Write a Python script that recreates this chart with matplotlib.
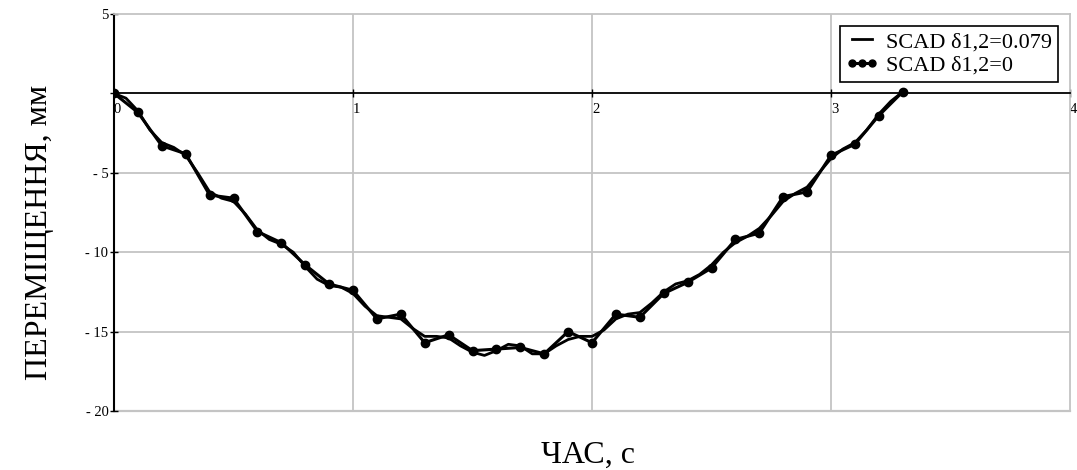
import matplotlib
matplotlib.use('Agg')
import matplotlib.pyplot as plt
import numpy as np

# SCAD d1,2=0 (markers every 0.1 s)
t_pts = [0.0, 0.1, 0.2, 0.3, 0.4, 0.5, 0.6, 0.7, 0.8, 0.9, 1.0, 1.1, 1.2, 1.3, 1.4, 1.5, 1.6,
         1.7, 1.8, 1.9, 2.0, 2.1, 2.2, 2.3, 2.4, 2.5, 2.6, 2.7, 2.8, 2.9, 3.0, 3.1, 3.2, 3.3]
u_pts = [0.0, -1.2, -3.3, -3.8, -6.4, -6.6, -8.7, -9.4, -10.8, -12.0, -12.4, -14.2, -13.9,
         -15.7, -15.2, -16.2, -16.1, -16.0, -16.4, -15.0, -15.7, -13.9, -14.1, -12.6, -11.9,
         -11.0, -9.2, -8.8, -6.5, -6.2, -3.9, -3.2, -1.4, 0.1]

# SCAD d1,2=0.079 (solid line, read every 0.05 s)
t_line = [0.0, 0.05, 0.1, 0.15, 0.2, 0.25, 0.3, 0.35, 0.4, 0.45, 0.5, 0.55, 0.6, 0.65, 0.7,
          0.75, 0.8, 0.85, 0.9, 0.95, 1.0, 1.05, 1.1, 1.15, 1.2, 1.25, 1.3, 1.35, 1.4, 1.45,
          1.5, 1.55, 1.6, 1.65, 1.7, 1.75, 1.8, 1.85, 1.9, 1.95, 2.0, 2.05, 2.1, 2.15, 2.2,
          2.25, 2.3, 2.35, 2.4, 2.45, 2.5, 2.55, 2.6, 2.65, 2.7, 2.75, 2.8, 2.85, 2.9, 2.95,
          3.0, 3.05, 3.1, 3.15, 3.2, 3.25, 3.3]
u_line = [0.0, -0.3, -1.1, -2.3, -3.1, -3.4, -3.9, -5.0, -6.2, -6.6, -6.8, -7.6, -8.6, -9.2,
          -9.5, -10.0, -10.9, -11.7, -12.1, -12.2, -12.6, -13.4, -14.0, -14.1, -14.2, -14.8,
          -15.3, -15.3, -15.4, -15.9, -16.3, -16.5, -16.2, -15.8, -15.9, -16.4, -16.4, -15.9,
          -15.5, -15.3, -15.3, -14.9, -14.2, -13.9, -13.8, -13.2, -12.5, -12.0, -11.8, -11.4,
          -10.8, -10.0, -9.4, -9.0, -8.5, -7.7, -6.8, -6.3, -5.9, -5.0, -4.1, -3.5, -3.1,
          -2.3, -1.3, -0.5, 0.1]

serif = ['Liberation Serif', 'DejaVu Serif']

fig = plt.figure(figsize=(10.77, 4.70), dpi=100)
ax = fig.add_axes([114 / 1077, 1 - 411 / 470, (1070 - 114) / 1077, (411 - 14) / 470])

ax.plot(t_line, u_line, color='black', linewidth=2.0, label='SCAD δ1,2=0.079', zorder=4)
ax.plot(t_pts, u_pts, color='black', linewidth=2.2, marker='o', markersize=6,
        label='SCAD δ1,2=0', zorder=5)

ax.set_xlim(0, 4)
ax.set_ylim(-20, 5)

grey = '#c4c4c4'
for x in [1, 2, 3]:
    ax.axvline(x, color=grey, linewidth=1.3, zorder=1)
for y in [-5, -10, -15]:
    ax.axhline(y, color=grey, linewidth=1.3, zorder=1)
ax.axhline(-20, color=grey, linewidth=1.6, zorder=1, clip_on=False)

ax.spines['top'].set_color(grey)
ax.spines['top'].set_linewidth(1.3)
ax.spines['right'].set_color(grey)
ax.spines['right'].set_linewidth(1.3)
ax.spines['left'].set_color('black')
ax.spines['left'].set_linewidth(1.5)
ax.spines['bottom'].set_position(('data', 0))
ax.spines['bottom'].set_color('black')
ax.spines['bottom'].set_linewidth(1.3)

ax.set_xticks([0, 1, 2, 3, 4])
ax.set_xticklabels(['0', '1', '2', '3', '4'], fontfamily=serif, fontsize=10.5)
for lab in ax.get_xticklabels():
    lab.set_ha('left')
ax.set_yticks([5, 0, -5, -10, -15, -20])
ax.set_yticklabels(['5', '', '- 5', '- 10', '- 15', '- 20'], fontfamily=serif, fontsize=10.5)
ax.tick_params(axis='both', direction='inout', length=6, width=1, colors='black')
ax.tick_params(axis='x', pad=4)
ax.tick_params(axis='y', pad=1)

leg = ax.legend(loc='upper right', bbox_to_anchor=(1058 / 1077, 1 - 26 / 470),
                bbox_transform=fig.transFigure, prop={'family': serif, 'size': 16},
                frameon=True, fancybox=False, edgecolor='black', framealpha=1,
                borderpad=0.25, labelspacing=0.15, handlelength=1.5, handletextpad=0.35,
                numpoints=3, borderaxespad=0)
leg.get_frame().set_linewidth(1.2)
for h in leg.legend_handles:
    h.set_markersize(5)

fig.text(40 / 1077, 1 - 232 / 470, 'ПЕРЕМІЩЕННЯ, мм', rotation=90, ha='center', va='center',
         fontfamily=serif, fontsize=23)
fig.text(588 / 1077, 1 - 455 / 470, 'ЧАС, с', ha='center', va='center',
         fontfamily=serif, fontsize=23)

fig.savefig('out.png', dpi=100)
